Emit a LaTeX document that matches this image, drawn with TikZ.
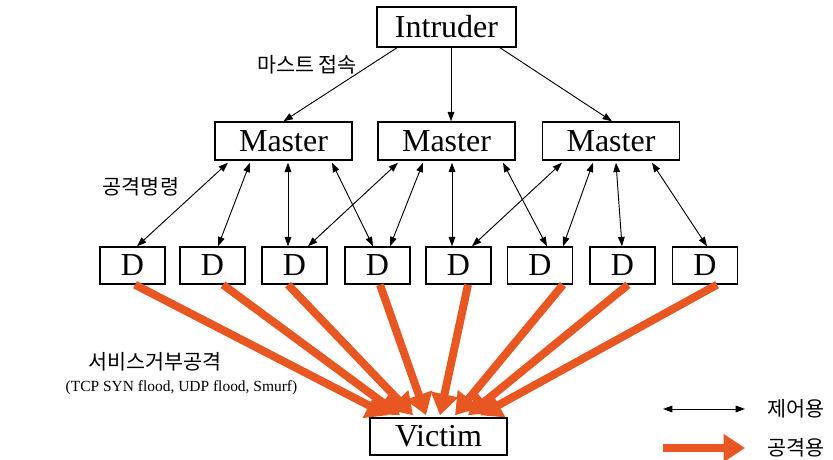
\documentclass[tikz,border=0pt]{standalone}
\usepackage{fontspec}
\setmainfont{Liberation Serif}
\newfontfamily\kor{Noto Sans CJK KR}
\usetikzlibrary{arrows.meta,calc}
\definecolor{atk}{RGB}{232,86,34}
\begin{document}
\begin{tikzpicture}[x=0.75pt,y=-0.75pt,
  box/.style={draw,line width=1.1pt,inner sep=0pt,font=\fontsize{24}{24}\selectfont},
  masterbox/.style={box,minimum width=102.75pt,minimum height=28.5pt},
  dbox/.style={box,minimum width=48.75pt,minimum height=27.75pt},
  ctl/.style={line width=0.7pt,{Triangle[length=7pt,width=5pt]}-{Triangle[length=7pt,width=5pt]}},
  cmd/.style={line width=0.7pt,-{Triangle[length=7pt,width=5pt]}},
  atkarrow/.style={atk,line width=6pt,-{Triangle[length=16pt,width=20pt]}},
  lbl/.style={font=\kor\fontsize{15.5}{15.5}\selectfont,inner sep=0pt},
  note/.style={font=\fontsize{11.6}{12}\selectfont,inner sep=0pt}]
\useasboundingbox (0,0) rectangle (833,460);

% hosts
\node[box,minimum width=104.25pt,minimum height=30pt] (intr) at (446.5,27) {Intruder};
\node[masterbox] (m1) at (283.5,141) {Master};
\node[masterbox] (m2) at (446.5,141) {Master};
\node[masterbox] (m3) at (611,141) {Master};
\foreach \i/\x in {1/132.5,2/212.5,3/294.5,4/377.5,5/458.5,6/540,7/622.5,8/705}
  \node[dbox] (d\i) at (\x,265.5) {D};
\node[masterbox,minimum height=27.75pt] (vic) at (438.5,436.5) {Victim};

% attack traffic from the daemons to the victim
\foreach \i/\a/\b in {1/2.5/-50.5,2/10.5/-38.5,3/-6.5/-25.5,4/2.5/-12.5,
                      5/9.5/1.5,6/23/16.5,7/5.5/29.5,8/12/41.5}
  \draw[atkarrow] ($(d\i.south)+(\a,0)$) -- ($(vic.north)+(\b,-2)$);

% intruder connects to the masters
\draw[cmd] ($(intr.south)+(-49.5,0)$) -- (m1.north);
\draw[cmd] ($(intr.south)+(4.5,0)$) -- ($(m2.north)+(4.5,0)$);
\draw[cmd] ($(intr.south)+(53.5,0)$) -- ($(m3.north)+(1,0)$);

% master <-> daemon control links
\foreach \m/\a/\d/\b in {m1/-55.5/d1/4.5, m1/-33.5/d2/5.5, m1/4.5/d3/-6.5, m1/48.5/d4/-4.5,
                         m2/-48.5/d3/13.5, m2/-23.5/d4/12.5, m2/5.5/d5/-6.5, m2/56.5/d6/7,
                         m3/-49/d5/13.5, m3/-18/d6/23, m3/5/d7/-0.5, m3/41/d8/2}
  \draw[ctl] ($(\m.south)+(\a,2)$) -- ($(\d.north)+(\b,0)$);

% labels
\node[lbl] (lconn) at (307,65) {마스트 접속};
\node[lbl] (lcmd) at (141,187) {공격명령};
\node[lbl] (ldos) at (155,362) {서비스거부공격};
\node[note] (ltypes) at (181.5,388) {(TCP SYN flood, UDP flood, Smurf)};

% legend
\coordinate (k1a) at (663,409);
\coordinate (k1b) at (745,409);
\coordinate (k2a) at (663,448);
\coordinate (k2b) at (745,448);
\draw[ctl] (k1a) -- (k1b);
\draw[atkarrow] (k2a) -- (k2b);
\node[lbl,anchor=west] (lctl) at (767,409) {제어용};
\node[lbl,anchor=west] (latk) at (767,448) {공격용};
\end{tikzpicture}
\end{document}
